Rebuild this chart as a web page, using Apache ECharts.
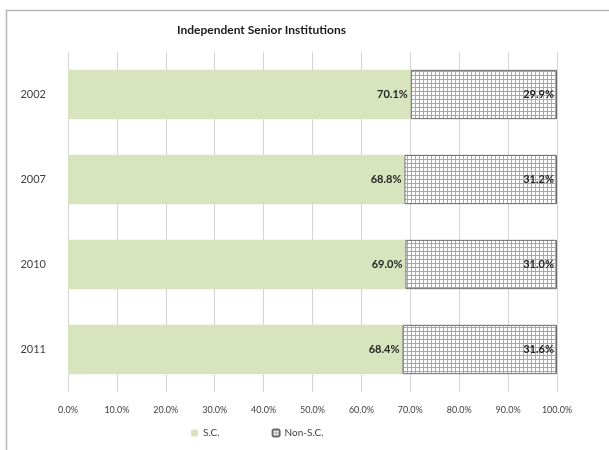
<!DOCTYPE html>
<html>
<head>
<meta charset="utf-8">
<script src="https://cdn.jsdelivr.net/npm/echarts@6/dist/echarts.min.js"></script>
<style>
  html, body { margin: 0; padding: 0; background: #fff; }
  #chart { width: 609px; height: 450px; }
</style>
</head>
<body>
<div id="chart"></div>
<script>
const years = ['2002', '2007', '2010', '2011'];
const scValues = [70.1, 68.8, 69.0, 68.4];
const nonScValues = [29.9, 31.2, 31.0, 31.6];
const xTicks = [0, 10, 20, 30, 40, 50, 60, 70, 80, 90, 100];

// small grid pattern for the Non-S.C. bars
function gridPattern() {
  const c = document.createElement('canvas');
  c.width = 4;
  c.height = 4;
  const ctx = c.getContext('2d');
  ctx.fillStyle = '#ffffff';
  ctx.fillRect(0, 0, 4, 4);
  ctx.fillStyle = '#a8a8a8';
  ctx.fillRect(3, 0, 1, 4);
  ctx.fillRect(0, 3, 4, 1);
  return c;
}

const chart = echarts.init(document.getElementById('chart'));
const font = 'Lato, Liberation Sans, Arial, sans-serif';

chart.setOption({
  animation: false,
  backgroundColor: '#fff',
  textStyle: { fontFamily: font },
  title: {
    text: 'Independent Senior Institutions',
    left: 172,
    top: 19,
    textStyle: { fontSize: 12, fontWeight: 'bold', color: '#1a1a1a', fontFamily: font }
  },
  graphic: [{
    type: 'rect',
    shape: { x: 6.5, y: 10.5, width: 640, height: 480 },
    style: { fill: 'none', stroke: '#b5b5b5', lineWidth: 1.5 },
    silent: true
  }],
  legend: {
    bottom: 7,
    left: 186,
    itemWidth: 7,
    itemHeight: 7,
    itemGap: 52,
    textStyle: { fontSize: 10, color: '#404040', fontFamily: font },
    data: ['S.C.', 'Non-S.C.']
  },
  grid: { left: 68, right: 52, top: 52, bottom: 58, containLabel: false },
  xAxis: {
    type: 'value',
    min: 0,
    max: 100,
    interval: 10,
    axisLine: { show: false },
    axisTick: { show: false },
    splitLine: { show: true, lineStyle: { color: '#d4d4d4', width: 1 } },
    axisLabel: {
      fontSize: 9,
      color: '#404040',
      margin: 14,
      formatter: v => xTicks.includes(v) ? v.toFixed(1) + '%' : ''
    }
  },
  yAxis: {
    type: 'category',
    inverse: true,
    data: years,
    axisLine: { show: false },
    axisTick: { show: false },
    axisLabel: { fontSize: 11, color: '#404040', margin: 22 }
  },
  series: [
    {
      name: 'S.C.',
      type: 'bar',
      stack: 'total',
      barCategoryGap: '42%',
      data: scValues,
      itemStyle: { color: '#d7e4bd' },
      label: {
        show: true,
        position: 'insideRight',
        distance: 3,
        fontSize: 11,
        fontWeight: 'bold',
        color: '#262626',
        formatter: p => p.value.toFixed(1) + '%'
      }
    },
    {
      name: 'Non-S.C.',
      type: 'bar',
      stack: 'total',
      data: nonScValues,
      itemStyle: {
        color: { image: gridPattern(), repeat: 'repeat' },
        borderColor: '#6a6a6a',
        borderWidth: 1
      },
      label: {
        show: true,
        position: 'insideRight',
        distance: 3,
        fontSize: 11,
        fontWeight: 'bold',
        color: '#262626',
        formatter: p => p.value.toFixed(1) + '%'
      }
    }
  ]
});
</script>
</body>
</html>
